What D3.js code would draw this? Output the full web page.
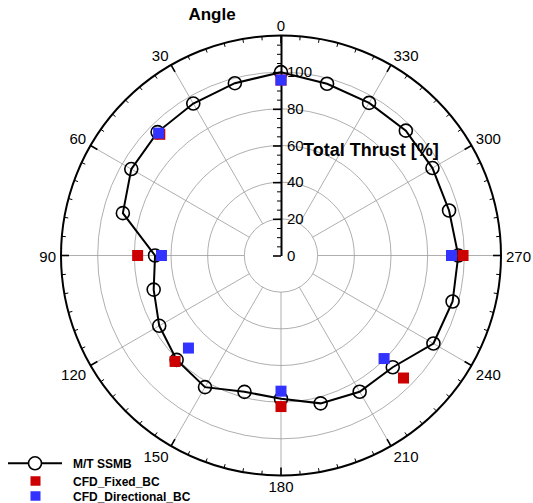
<!DOCTYPE html>
<html>
<head>
<meta charset="utf-8">
<script src="https://cdn.jsdelivr.net/npm/d3@7/dist/d3.min.js"></script>
<style>
  html, body { margin: 0; padding: 0; background: #fff; }
  svg { display: block; font-family: "Liberation Sans", Arial, sans-serif; }
</style>
</head>
<body>
<svg id="chart" width="533" height="503"></svg>
<script>
// Measured thrust (M/T SSMB), every 15 degrees
const ssmbAngles = [0, 15, 30, 45, 60, 75, 90, 105, 120, 135, 150, 165,
                    180, 195, 210, 225, 240, 255, 270, 285, 300, 315, 330, 345];
const ssmbValues = [100, 97.3, 95.7, 95.2, 94.3, 89.3, 68.7, 71.9, 76.7, 80.5, 82.9, 77.0,
                    78.1, 83.5, 85.8, 86.2, 96.0, 96.9, 96.7, 94.9, 95.4, 96.3, 96.1, 97.0];

// CFD results, every 45 degrees
const cfdAngles = [0, 45, 90, 135, 180, 225, 270];
const fixedValues = [95.7, 93.5, 78.2, 81.7, 82.4, 94.5, 99.3];
const directionalValues = [95.7, 94.4, 65.2, 71.4, 74.0, 79.5, 93.0];

// Axis ticks
const angleLabels = [0, 30, 60, 90, 120, 150, 180, 210, 240, 270, 300, 330];
const radialTicks = [0, 20, 40, 60, 80, 100];
const gridRadii = [20, 40, 60, 80, 100];
const seriesNames = ["M/T SSMB", "CFD_Fixed_BC", "CFD_Directional_BC"];

const cx = 281, cy = 255.5, R = 220;
const rMax = 120;

const svg = d3.select("#chart");
const r = d3.scaleLinear().domain([0, rMax]).range([0, R]);
const rad = d => d * Math.PI / 180;
// angles run counter-clockwise from the top
const px = (a, v) => cx - r(v) * Math.sin(rad(a));
const py = (a, v) => cy - r(v) * Math.cos(rad(a));

const g = svg.append("g");

// grid circles
g.selectAll("circle.grid").data(gridRadii).join("circle")
  .attr("class", "grid")
  .attr("cx", cx).attr("cy", cy).attr("r", d => r(d))
  .attr("fill", "none").attr("stroke", "#9a9a9a").attr("stroke-width", 0.8);

// spokes
g.selectAll("line.spoke").data(angleLabels.filter(a => a !== 0)).join("line")
  .attr("class", "spoke")
  .attr("x1", a => px(a, 20)).attr("y1", a => py(a, 20))
  .attr("x2", a => px(a, rMax)).attr("y2", a => py(a, rMax))
  .attr("stroke", "#9a9a9a").attr("stroke-width", 0.8);

// outer circle
g.append("circle")
  .attr("cx", cx).attr("cy", cy).attr("r", R)
  .attr("fill", "none").attr("stroke", "#000").attr("stroke-width", 2);

// angular ticks: minor every 5 degrees, major every 30
const minorAngles = d3.range(0, 360, 5).filter(a => a % 30 !== 0);
g.selectAll("line.amin").data(minorAngles).join("line")
  .attr("class", "amin")
  .attr("x1", a => cx - R * Math.sin(rad(a))).attr("y1", a => cy - R * Math.cos(rad(a)))
  .attr("x2", a => cx - (R - 4) * Math.sin(rad(a))).attr("y2", a => cy - (R - 4) * Math.cos(rad(a)))
  .attr("stroke", "#000").attr("stroke-width", 1);
g.selectAll("line.amaj").data(angleLabels).join("line")
  .attr("class", "amaj")
  .attr("x1", a => cx - R * Math.sin(rad(a))).attr("y1", a => cy - R * Math.cos(rad(a)))
  .attr("x2", a => cx - (R - 8) * Math.sin(rad(a))).attr("y2", a => cy - (R - 8) * Math.cos(rad(a)))
  .attr("stroke", "#000").attr("stroke-width", 1.6);

// angle labels: the text box sits just outside the outer circle
const gap = 5, digitH = 11;
const eps = 1e-6;
const sgn = v => (Math.abs(v) < eps ? 0 : Math.sign(v));
g.selectAll("text.alab").data(angleLabels).join("text")
  .attr("class", "alab")
  .attr("text-anchor", "middle").attr("dominant-baseline", "central")
  .attr("font-size", 15).attr("fill", "#000")
  .text(d => d)
  .each(function (a) {
    const w = this.getComputedTextLength();
    const ux = -Math.sin(rad(a)), uy = -Math.cos(rad(a));
    d3.select(this)
      .attr("x", cx + (R + gap) * ux + sgn(ux) * w / 2)
      .attr("y", cy + (R + gap) * uy + sgn(uy) * digitH / 2 + 0.5);
  });

// radial axis along 0 degrees
const ry = d3.scaleLinear().domain([0, rMax]).range([0, -R]);
const radial = g.append("g").attr("transform", `translate(${cx},${cy})`);
radial.call(d3.axisRight(ry).tickValues(d3.range(0, rMax + 1, 5).filter(v => v % 20 !== 0))
    .tickSizeInner(-4).tickSizeOuter(0).tickFormat(""))
  .call(s => s.selectAll("line").attr("stroke-width", 1))
  .call(s => s.select(".domain").attr("stroke-width", 2));
radial.append("g").call(d3.axisRight(ry).tickValues(radialTicks)
    .tickSizeInner(-8).tickSizeOuter(0).tickPadding(6))
  .call(s => s.select(".domain").remove())
  .call(s => s.selectAll("line").attr("stroke-width", 1.6))
  .call(s => s.selectAll("text").attr("font-size", 15).attr("font-family", "Liberation Sans, Arial, sans-serif").attr("fill", "#000"));

// titles
svg.append("text").attr("x", 212).attr("y", 14).attr("text-anchor", "middle")
  .attr("dominant-baseline", "central").attr("font-size", 17).attr("font-weight", "bold")
  .text("Angle");
svg.append("text").attr("x", 303).attr("y", 150)
  .attr("dominant-baseline", "central").attr("font-size", 18).attr("font-weight", "bold")
  .text("Total Thrust [%]");

// measured series
const ssmb = ssmbAngles.map((a, i) => ({ angle: a, value: ssmbValues[i] }));
const line = d3.lineRadial()
  .angle(d => -rad(d.angle))
  .radius(d => r(d.value))
  .curve(d3.curveLinearClosed);
g.append("path").datum(ssmb)
  .attr("transform", `translate(${cx},${cy})`)
  .attr("d", line)
  .attr("fill", "none").attr("stroke", "#000").attr("stroke-width", 2);
g.selectAll("circle.ssmb").data(ssmb).join("circle")
  .attr("class", "ssmb")
  .attr("cx", d => px(d.angle, d.value)).attr("cy", d => py(d.angle, d.value))
  .attr("r", 6.5).attr("fill", "none").attr("stroke", "#000").attr("stroke-width", 1.6);

// CFD series
const sq = 11;
function squares(values, color, cls) {
  const data = cfdAngles.map((a, i) => ({ angle: a, value: values[i] }));
  g.selectAll("rect." + cls).data(data).join("rect")
    .attr("class", cls)
    .attr("x", d => px(d.angle, d.value) - sq / 2).attr("y", d => py(d.angle, d.value) - sq / 2)
    .attr("width", sq).attr("height", sq).attr("fill", color);
}
squares(fixedValues, "#cc0000", "fixed");
squares(directionalValues, "#3333ff", "directional");

// legend
const legendY = [463.3, 481, 496];
const lg = svg.append("g");
lg.append("line").attr("x1", 8).attr("x2", 62).attr("y1", legendY[0]).attr("y2", legendY[0])
  .attr("stroke", "#000").attr("stroke-width", 2);
lg.append("circle").attr("cx", 35).attr("cy", legendY[0]).attr("r", 6.5)
  .attr("fill", "#fff").attr("stroke", "#000").attr("stroke-width", 1.6);
lg.append("rect").attr("x", 30.5).attr("y", legendY[1] - 4.75).attr("width", 10).attr("height", 9.5).attr("fill", "#cc0000");
lg.append("rect").attr("x", 30.5).attr("y", legendY[2] - 4.75).attr("width", 10).attr("height", 9.5).attr("fill", "#3333ff");
lg.selectAll("text").data(seriesNames).join("text")
  .attr("x", 73).attr("y", (d, i) => legendY[i] + 0.5)
  .attr("dominant-baseline", "central")
  .attr("font-size", 12).attr("font-weight", "bold").attr("fill", "#000")
  .text(d => d);
</script>
</body>
</html>
